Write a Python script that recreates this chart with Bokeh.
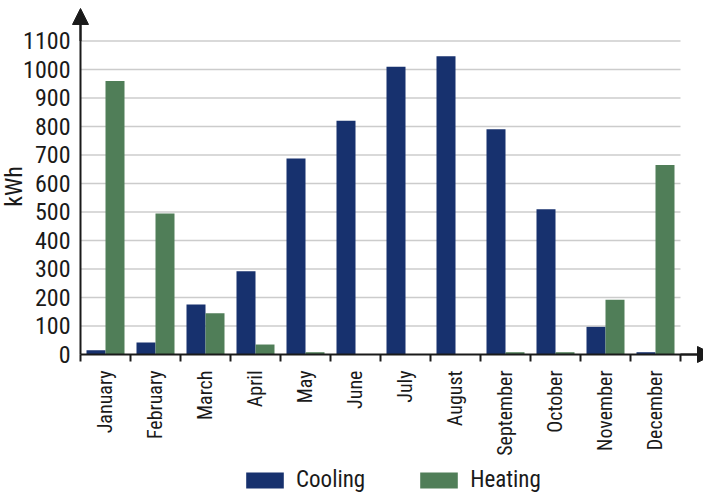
import numpy as np
from bokeh.plotting import figure
from bokeh.models import (ColumnDataSource, FixedTicker, Legend, LegendItem,
                          Arrow, NormalHead)
from bokeh.transform import dodge
from bokeh.embed import file_html
from bokeh.resources import INLINE

months = ["January", "February", "March", "April", "May", "June", "July",
          "August", "September", "October", "November", "December"]
cooling = [15, 42, 175, 292, 688, 820, 1010, 1046, 790, 510, 97, 8]
heating = [960, 495, 145, 35, 8, 0, 0, 0, 8, 8, 192, 665]
y_ticks = [0, 100, 200, 300, 400, 500, 600, 700, 800, 900, 1000, 1100]

FONT = "Roboto Condensed"
COOL = "#17316e"
HEAT = "#507e58"
AXC = "#1a1a1a"

n = len(months)
xc = [i + 0.5 for i in range(n)]
src = ColumnDataSource(dict(x=xc, cooling=cooling, heating=heating))

p = figure(frame_width=703, frame_height=494, output_backend="svg",
           toolbar_location=None, x_range=(-1.6, 12.46),
           y_range=(-491.2, 1242),
           min_border_top=0, min_border_right=0, min_border_left=0,
           min_border_bottom=0)
p.outline_line_color = None
p.xgrid.visible = False
p.ygrid.visible = False

# grid lines
p.segment(x0=0, x1=12, y0=y_ticks[1:], y1=y_ticks[1:], line_color="#cccccc",
          line_width=1.5)

r1 = p.vbar(x=dodge("x", -0.19, range=p.x_range), top="cooling", width=0.38,
            source=src, fill_color=COOL, line_color=None)
r2 = p.vbar(x=dodge("x", 0.19, range=p.x_range), top="heating", width=0.38,
            source=src, fill_color=HEAT, line_color=None)

# x axis
xa = p.xaxis[0]
xa.fixed_location = 0
xa.bounds = (0, 12.4)
xa.ticker = FixedTicker(ticks=xc, minor_ticks=list(range(n + 1)))
xa.major_label_overrides = {x: m for x, m in zip(xc, months)}
xa.major_label_orientation = np.pi / 2
xa.major_tick_out = 0
xa.major_tick_in = 0
xa.minor_tick_out = 7
xa.minor_tick_in = 0
xa.minor_tick_line_color = AXC
xa.minor_tick_line_width = 2
xa.axis_line_color = AXC
xa.axis_line_width = 2
xa.major_label_standoff = 9
xa.major_label_text_font = FONT
xa.major_label_text_font_size = "20px"
xa.major_label_text_color = "#1a1a1a"

# y axis
ya = p.yaxis[0]
ya.fixed_location = 0
ya.ticker = FixedTicker(ticks=y_ticks)
ya.bounds = (0, 1180)
ya.major_tick_out = 0
ya.major_tick_in = 0
ya.minor_tick_out = 0
ya.minor_tick_in = 0
ya.axis_line_color = AXC
ya.axis_line_width = 2
ya.major_label_standoff = 10
ya.major_label_text_font = FONT
ya.major_label_text_font_size = "24px"
ya.major_label_text_color = "#1a1a1a"
ya.axis_label = "kWh"
ya.axis_label_text_font = FONT
ya.axis_label_text_font_size = "24px"
ya.axis_label_text_font_style = "normal"
ya.axis_label_text_color = "#1a1a1a"
ya.axis_label_standoff = -8

# axis arrows
p.add_layout(Arrow(end=NormalHead(size=16, fill_color=AXC, line_color=AXC),
                   x_start=0, y_start=1100, x_end=0, y_end=1214,
                   line_color=AXC, line_width=2))
p.add_layout(Arrow(end=NormalHead(size=16, fill_color=AXC, line_color=AXC),
                   x_start=12, y_start=0, x_end=12.66, y_end=0,
                   line_color=AXC, line_width=2))

legend = Legend(items=[LegendItem(label="Cooling", renderers=[r1]),
                       LegendItem(label="Heating", renderers=[r2])],
                orientation="horizontal", location=(241, 1),
                glyph_width=47, glyph_height=20, label_standoff=8,
                spacing=50, padding=0, margin=0,
                label_text_font=FONT, label_text_font_size="23px",
                label_text_color="#1a1a1a", border_line_color=None,
                background_fill_alpha=0)
p.add_layout(legend)

open("out.html", "w").write(file_html(p, INLINE))
